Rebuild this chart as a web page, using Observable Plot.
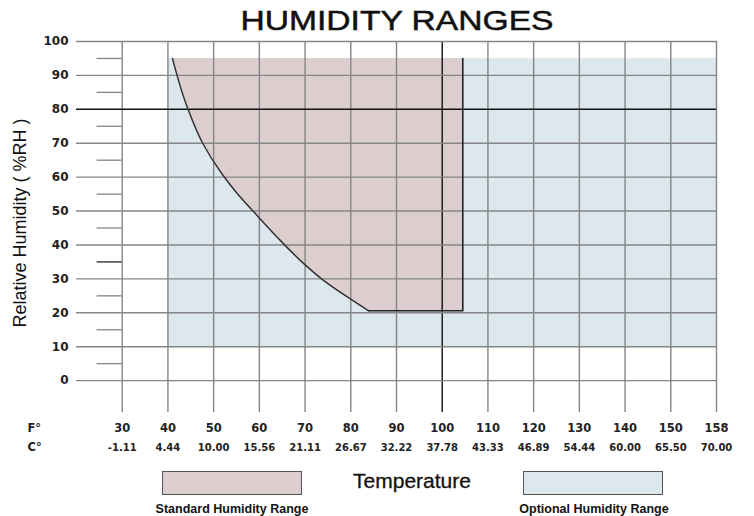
<!DOCTYPE html>
<html>
<head>
<meta charset="utf-8">
<script src="https://cdn.jsdelivr.net/npm/d3@7"></script>
<script src="https://cdn.jsdelivr.net/npm/@observablehq/plot@0.6"></script>
<style>
  body { margin: 0; background: #fff; }
  #wrap { position: relative; width: 754px; height: 516px; overflow: hidden; font-family: "Liberation Sans", Arial, sans-serif; color: #111; }
  #wrap svg { position: absolute; left: 0; top: 0; }
  .abs { position: absolute; white-space: nowrap; line-height: 1; }
  #title { left: 397px; top: 7px; font-size: 28px; transform: translateX(-50%) scaleX(1.2); -webkit-text-stroke: 0.5px #111; }
  #temp { left: 412px; top: 470px; font-size: 21px; transform: translateX(-50%); -webkit-text-stroke: 0.3px #111; }
  .legtxt { top: 503px; font-size: 12.5px; font-weight: bold; transform: translateX(-50%); }
  .swatch { position: absolute; top: 471px; width: 138px; height: 22px; border: 1.5px solid #555; }
  g[aria-label="y-tick-labels"] text { letter-spacing: 1.2px; }
  g[aria-label="f-labels"] text { letter-spacing: 1px; }
  g[aria-label="c-labels"] text { letter-spacing: 0.7px; }
</style>
</head>
<body>
<div id="wrap"></div>
<script>
// ---- data ----
const fGrid = [30, 40, 50, 60, 70, 80, 90, 100, 110, 120, 130, 140, 150, 160];
const fLabels = ["30", "40", "50", "60", "70", "80", "90", "100", "110", "120", "130", "140", "150", "158"];
const cLabels = ["-1.11", "4.44", "10.00", "15.56", "21.11", "26.67", "32.22", "37.78", "43.33", "46.89", "54.44", "60.00", "65.50", "70.00"];
const rhTicks = [0, 10, 20, 30, 40, 50, 60, 70, 80, 90, 100];
const rhMinor = [5, 15, 25, 35, 45, 55, 65, 75, 85, 95];

// boundary curve of the standard humidity range
const curveRH = [95, 90, 85, 80, 70, 61.0, 55.1, 48.7, 42.3, 35.4, 29.5, 24.1, 20.6];
const curveF  = [41.0, 42.0, 43.1, 44.4, 47.6, 51.8, 55.2, 59.5, 63.9, 69.0, 74.1, 79.9, 83.9];

const standardRightF = 104.5;
const standardTopRH = 95;
const standardBottomRH = 20.6;

const optionalLeftF = 40;
const optionalRightF = 160;
const optionalTopRH = 95;
const optionalBottomRH = 10;

// ---- chart ----
const X0 = 20, X1 = 160, Y0 = -9.4, Y1 = 100;
const pink = "#dccdcf", blue = "#dde7ee", grid = "#858585";
const idx = curveRH.map((_, i) => i);
const borderX = [curveF[curveF.length - 1], standardRightF, standardRightF];
const borderY = [standardBottomRH, standardBottomRH, standardTopRH];
const numFont = "DejaVu Sans, Liberation Sans, sans-serif";

const chart = Plot.plot({
  width: 754,
  height: 516,
  marginTop: 41,
  marginBottom: 104,
  marginLeft: 76,
  marginRight: 38,
  x: { type: "linear", domain: [X0, X1], axis: null },
  y: { type: "linear", domain: [Y0, Y1], axis: null },
  style: { background: "transparent", overflow: "visible" },
  marks: [
    Plot.rect([0], { x1: optionalLeftF, x2: optionalRightF, y1: optionalBottomRH, y2: optionalTopRH, fill: blue }),
    Plot.areaX(idx, { y: i => curveRH[i], x1: i => curveF[i], x2: standardRightF, fill: pink, curve: "monotone-y" }),
    Plot.ruleX(fGrid, { x: d => d, y1: Y0, y2: Y1, stroke: d => d === 100 ? "#111" : grid, strokeWidth: 1.4 }),
    Plot.ruleY(rhTicks, { y: d => d, x1: X0, x2: X1, stroke: d => d === 80 ? "#111" : grid, strokeWidth: d => d === 80 ? 1.6 : 1.4 }),
    Plot.ruleY(rhMinor, { y: d => d, x1: 24.5, x2: 30, stroke: d => d === 35 ? "#222" : grid, strokeWidth: 1.3 }),
    Plot.line(idx, { x: i => curveF[i], y: i => curveRH[i], stroke: "#333", strokeWidth: 1.5, curve: "monotone-y" }),
    Plot.line([0, 1, 2], { x: i => borderX[i], y: i => borderY[i], stroke: "#222", strokeWidth: 1.6 }),
    Plot.text(rhTicks, { ariaLabel: "y-tick-labels", frameAnchor: "left", y: d => d, text: d => String(d), textAnchor: "end", dx: -8, fontSize: 12, fontWeight: "bold", fontFamily: numFont, fill: "#222" }),
    Plot.text(fGrid, { ariaLabel: "f-labels", x: d => d, frameAnchor: "bottom", text: (d, i) => fLabels[i], dy: 19, fontSize: 11.5, fontWeight: "bold", fontFamily: numFont, fill: "#222" }),
    Plot.text(fGrid, { ariaLabel: "c-labels", x: d => d, frameAnchor: "bottom", text: (d, i) => cLabels[i], dy: 38, fontSize: 10, fontWeight: "bold", fontFamily: numFont, fill: "#222" }),
    Plot.text(["F°"], { frameAnchor: "bottom-left", textAnchor: "start", dx: -49, dy: 19, fontSize: 11.5, fontWeight: "bold", fontFamily: numFont, fill: "#222" }),
    Plot.text(["C°"], { frameAnchor: "bottom-left", textAnchor: "start", dx: -49, dy: 38, fontSize: 11.5, fontWeight: "bold", fontFamily: numFont, fill: "#222" }),
    Plot.text(["Relative Humidity ( %RH )"], { frameAnchor: "left", textAnchor: "middle", rotate: -90, dx: -56, dy: -4, fontSize: 18, fontFamily: "Liberation Sans, Arial, sans-serif", fill: "#111" })
  ]
});

const wrap = document.getElementById("wrap");
wrap.appendChild(chart);

function addDiv(id, cls, text, style) {
  const d = document.createElement("div");
  if (id) d.id = id;
  d.className = cls;
  if (text) d.textContent = text;
  if (style) Object.assign(d.style, style);
  wrap.appendChild(d);
}
addDiv("title", "abs", "HUMIDITY RANGES");
addDiv("temp", "abs", "Temperature");
addDiv(null, "swatch", "", { left: "162px", background: pink });
addDiv(null, "swatch", "", { left: "523px", background: blue });
addDiv(null, "abs legtxt", "Standard Humidity Range", { left: "232px" });
addDiv(null, "abs legtxt", "Optional Humidity Range", { left: "594px" });
</script>
</body>
</html>
